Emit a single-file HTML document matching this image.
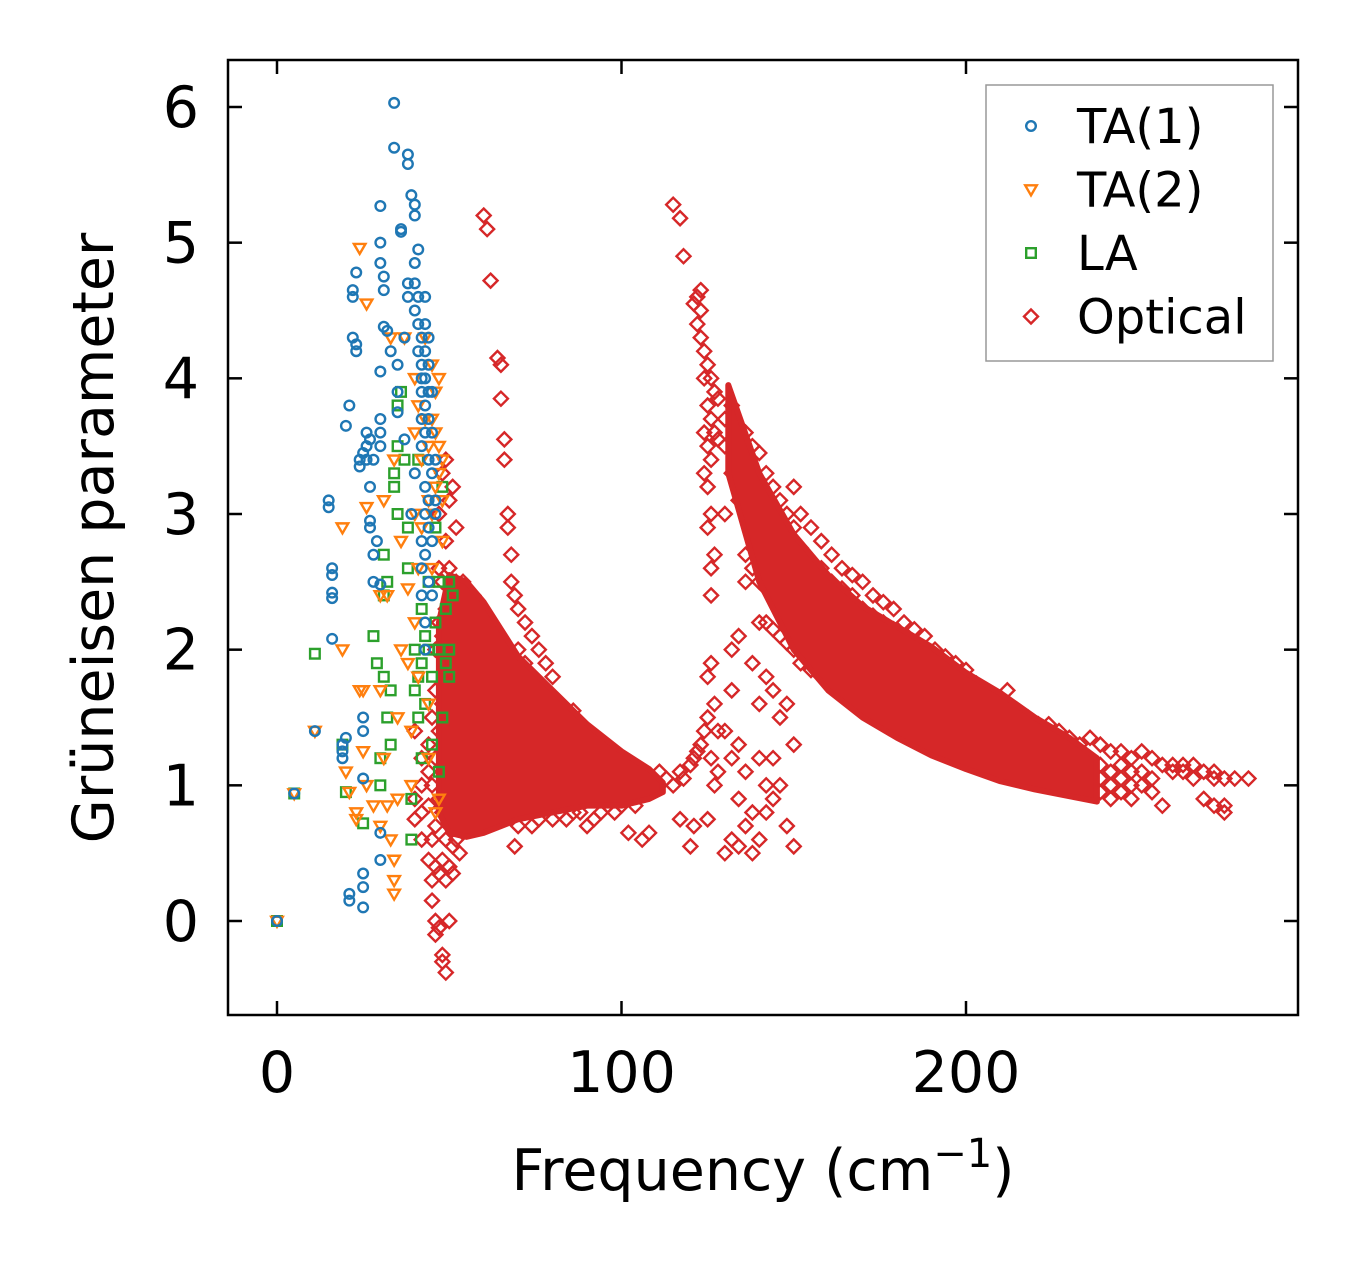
<!DOCTYPE html>
<html><head><meta charset="utf-8">
<style>
html,body{margin:0;padding:0;background:#fff;}
svg{display:block;font-family:"DejaVu Sans","Liberation Sans",sans-serif;}
</style></head>
<body>
<svg id="chart" width="1357" height="1264" viewBox="0 0 1357 1264" xmlns="http://www.w3.org/2000/svg">
<rect x="0" y="0" width="1357" height="1264" fill="#fff"/>
<g id="marks"></g>
<g id="axes"></g>
</svg>
<script>
const xTicks = [0, 100, 200];
const yTicks = [0, 1, 2, 3, 4, 5, 6];
const seriesNames = ["TA(1)", "TA(2)", "LA", "Optical"];

const ta1 = [[0,0],[5,0.94],[11,1.4],[15,3.1],[15,3.05],[16,2.6],[16,2.55],[16,2.42],[16,2.38],[16,2.08],[19,1.3],[19,1.25],[19,1.2],[20,1.35],[20,3.65],[21,3.8],[21,0.2],[21,0.15],[22,4.3],[22,4.65],[22,4.6],[23,4.2],[23,4.25],[23,4.78],[24,3.4],[24,3.35],[25,3.45],[25,1.5],[25,1.4],[25,1.05],[25,0.35],[25,0.25],[25,0.1],[26,3.6],[26,3.5],[26,3.4],[27,3.55],[27,3.2],[27,2.95],[27,2.9],[28,2.7],[28,2.5],[28,3.4],[29,2.8],[30,5.27],[30,5.0],[30,4.85],[30,4.05],[30,3.6],[30,3.7],[30,3.5],[30,2.48],[30,0.45],[30,0.65],[31,4.75],[31,4.65],[31,4.38],[32,4.35],[33,4.2],[34,6.03],[34,5.7],[35,3.75],[35,3.9],[35,4.1],[36,5.1],[36,5.08],[37,3.55],[37,4.3],[38,5.65],[38,5.58],[38,4.7],[38,4.6],[39,5.35],[39,3.0],[40,5.28],[40,5.2],[40,4.85],[40,4.7],[40,4.5],[40,3.3],[41,4.95],[41,4.6],[41,4.4],[41,4.2],[42,4.3],[42,4.1],[42,4.0],[42,3.9],[42,3.7],[42,3.5],[42,2.8],[42,2.6],[42,2.4],[43,4.6],[43,4.4],[43,4.2],[43,4.0],[43,3.8],[43,3.6],[43,3.2],[43,3.0],[43,2.7],[43,2.2],[43,2.0],[44,4.3],[44,4.1],[44,3.9],[44,3.7],[44,3.4],[44,3.1],[44,2.9],[44,2.5],[45,3.9],[45,3.6],[45,3.3],[45,2.8],[45,2.4],[46,3.4],[46,3.1],[46,3.0]];

const ta2 = [[0,0],[5,0.94],[11,1.4],[19,2.9],[19,2.0],[20,1.1],[21,0.95],[23,0.75],[23,0.8],[24,1.7],[24,4.96],[25,1.25],[25,1.7],[26,1.0],[26,4.55],[26,3.05],[28,0.85],[30,0.7],[30,2.4],[30,1.7],[31,1.2],[31,3.1],[32,2.4],[32,0.85],[33,0.6],[33,4.3],[34,0.3],[34,0.2],[34,0.45],[34,3.4],[35,0.9],[35,1.5],[36,2.0],[36,2.8],[37,4.3],[38,2.45],[38,1.9],[39,1.4],[39,1.0],[40,4.0],[40,3.6],[40,3.0],[40,2.2],[41,3.8],[41,2.6],[41,1.8],[42,3.4],[42,2.9],[43,4.3],[43,3.7],[44,3.5],[44,3.1],[45,4.1],[45,3.7],[45,3.0],[46,3.9],[46,3.6],[46,3.2],[47,4.0],[47,3.5],[47,3.3],[48,3.4],[48,3.1],[47,0.9],[46,0.8],[44,1.2],[44,1.6],[45,2.6],[48,2.8]];

const la = [[0,0],[5,0.94],[11,1.97],[19,1.3],[20,0.95],[25,0.72],[28,2.1],[29,1.9],[30,1.2],[30,1.0],[31,1.8],[31,2.4],[31,2.7],[32,2.5],[32,1.5],[33,1.3],[33,1.7],[34,3.3],[34,3.2],[35,3.8],[35,3.5],[35,3.0],[36,3.9],[37,3.4],[38,2.9],[38,2.6],[39,0.9],[39,0.6],[40,2.0],[40,1.7],[41,1.8],[41,1.5],[41,3.4],[42,1.2],[42,1.9],[42,2.3],[43,2.1],[43,1.6],[44,2.5],[44,2.0],[45,1.3],[45,1.8],[46,2.2],[46,2.9],[47,2.5],[47,2.0],[47,1.1],[48,1.5],[48,3.2],[49,2.3],[49,1.9],[50,2.5],[50,2.0],[50,1.8],[51,2.4]];

const optical = [[40,[0.9,0.75,1.4]],[42,[1.0,0.8,1.2,0.6]],[44,[0.45,1.3,0.85,1.1]],[45,[0.3,0.15,0.6,1.0,1.5]],[46,[-0.1,0.0,0.4,0.7,1.2,1.7,2.0]],[47,[-0.05,0.35,0.9,1.4,2.2,2.6,3.0]],[48,[-0.25,-0.3,0.45,0.8,1.1,1.6,2.1,2.5,3.3]],[49,[-0.38,0.3,0.6,1.0,1.3,1.8,2.3,2.8,3.4]],[50,[0.0,0.4,0.7,1.2,1.5,1.9,2.2,2.6,3.1]],[51,[0.35,0.55,0.9,1.3,1.6,2.0,2.4,3.2]],[52,[0.6,0.8,1.1,1.4,1.7,2.1,2.5,2.9]],[53,[0.5,0.9,1.2,1.5,1.8,2.2,2.4]],[54,[0.7,1.0,1.3,1.6,1.9,2.3,2.5]],[55,[0.8,1.1,1.4,1.7,2.0,2.3]],[56,[0.75,1.0,1.3,1.6,1.9,2.2,2.4]],[57,[0.9,1.2,1.5,1.8,2.1,2.4]],[58,[0.85,1.1,1.4,1.7,2.0,2.3]],[59,[1.0,1.3,1.6,1.9,2.2]],[60,[0.9,1.2,1.5,1.8,2.1,5.2]],[61,[0.8,1.1,1.4,1.7,2.0,5.1]],[62,[1.0,1.3,1.6,1.9,4.72]],[63,[0.9,1.2,1.5,1.8]],[64,[1.0,1.3,1.6,1.9,4.15]],[65,[0.85,1.1,1.4,1.7,4.1,3.85]],[66,[1.0,1.2,1.5,1.8,3.55,3.4]],[67,[0.8,1.1,1.4,1.7,2.0,3.0,2.9]],[68,[0.9,1.2,1.5,1.8,2.7,2.5]],[69,[0.55,1.0,1.3,1.6,1.9,2.4]],[70,[0.7,1.1,1.4,1.7,2.0,2.3]],[72,[0.8,1.0,1.3,1.6,1.9,2.2]],[74,[0.7,1.0,1.2,1.5,1.8,2.1]],[76,[0.75,0.95,1.2,1.45,1.7,2.0]],[78,[0.8,1.0,1.2,1.4,1.65,1.9]],[80,[0.75,0.95,1.15,1.4,1.6,1.8]],[82,[0.8,1.0,1.2,1.4,1.6]],[84,[0.75,0.95,1.1,1.3,1.5]],[86,[0.8,1.0,1.15,1.35,1.55]],[88,[0.8,0.95,1.1,1.3,1.45]],[90,[0.7,0.9,1.05,1.25,1.4]],[92,[0.75,0.9,1.05,1.2,1.35]],[94,[0.8,0.95,1.1,1.25]],[96,[0.85,0.95,1.05,1.2]],[98,[0.8,0.95,1.05,1.15]],[100,[0.85,0.95,1.05]],[102,[0.65,0.9,1.0]],[104,[0.95,0.85]],[106,[0.6,1.0]],[108,[0.65]],[111,[1.1,1.0]],[113,[1.05]],[115,[1.0,5.28]],[117,[1.1,5.18,0.75]],[118,[4.9,1.05]],[120,[1.15,0.55]],[121,[1.2,4.55,0.7]],[122,[4.6,4.4,1.25]],[123,[4.65,4.5,4.3,1.3]],[124,[4.2,4.0,3.6,3.3,1.4]],[125,[4.1,3.8,3.5,3.2,2.9,1.8,1.5,0.75]],[126,[4.0,3.7,3.4,3.0,2.6,2.4,1.9,1.2]],[127,[3.9,3.6,2.7,1.6,1.0]],[128,[3.85,3.55,1.4,1.1]],[130,[3.7,3.5,3.0,1.4,0.5]],[132,[3.8,3.55,3.3,2.0,1.7,1.2,0.6]],[134,[3.65,3.4,3.1,2.1,1.3,0.9,0.55]],[136,[3.6,3.3,3.0,2.7,2.5,1.1,0.7]],[138,[3.5,3.2,2.9,2.6,1.9,0.8,0.5]],[140,[3.45,3.1,2.8,2.5,2.2,1.6,1.2,0.6]],[142,[3.3,3.0,2.7,2.45,2.2,1.8,1.0,0.8]],[144,[3.2,2.9,2.65,2.4,2.15,1.7,1.2,0.9]],[146,[3.1,2.85,2.6,2.35,2.1,1.5,1.0]],[148,[3.0,2.8,2.55,2.3,2.05,1.6,0.7]],[150,[3.2,2.9,2.7,2.5,2.25,2.0,1.3,0.55]],[152,[3.0,2.75,2.5,2.3,2.1,1.9]],[155,[2.9,2.65,2.45,2.25,2.05,1.85]],[158,[2.8,2.6,2.4,2.2,2.0,1.8]],[161,[2.7,2.5,2.3,2.15,1.95,1.75]],[164,[2.6,2.45,2.25,2.1,1.9,1.7]],[167,[2.55,2.4,2.2,2.05,1.85,1.65]],[170,[2.5,2.3,2.15,2.0,1.8,1.6]],[173,[2.4,2.25,2.1,1.95,1.75,1.6]],[176,[2.35,2.2,2.05,1.9,1.7,1.55]],[179,[2.3,2.15,2.0,1.85,1.65,1.5]],[182,[2.2,2.05,1.9,1.75,1.6]],[185,[2.15,2.0,1.85,1.7,1.55,1.45]],[188,[2.1,1.95,1.8,1.65,1.5]],[191,[2.0,1.85,1.7,1.6,1.45,1.3]],[194,[1.95,1.8,1.7,1.55,1.4]],[197,[1.9,1.75,1.6,1.5,1.35]],[200,[1.85,1.7,1.6,1.45,1.35]],[203,[1.75,1.65,1.5,1.4,1.3]],[206,[1.7,1.6,1.5,1.35,1.25]],[209,[1.65,1.55,1.45,1.35,1.2]],[212,[1.7,1.5,1.4,1.3,1.2]],[215,[1.55,1.45,1.35,1.25,1.15]],[218,[1.5,1.4,1.3,1.2,1.1]],[221,[1.45,1.35,1.25,1.15,1.05]],[224,[1.45,1.3,1.2,1.1,1.05]],[227,[1.4,1.3,1.15,1.05,1.0]],[230,[1.35,1.2,1.1,1.0]],[233,[1.3,1.15,1.05,0.95]],[236,[1.35,1.2,1.1,1.0,0.95]],[239,[1.3,1.15,1.05,0.95]],[242,[1.25,1.1,1.0,0.9]],[245,[1.25,1.15,1.05,0.95]],[248,[1.2,1.1,1.0,0.9]],[251,[1.25,1.1,1.0]],[254,[1.2,1.05,0.95]],[257,[1.15,0.85]],[260,[1.15,1.1]],[263,[1.15,1.1]],[266,[1.15,1.05]],[269,[1.1,0.9]],[272,[1.1,1.05,0.85]],[275,[1.05,0.8,0.85]],[278,[1.05]],[282,[1.05]]];

// dense optical cloud envelopes (freq, low gamma, high gamma)
const denseLowFreq = [47,50,55,60,65,70,80,90,100,108,112];
const denseLowMin  = [0.8,0.65,0.62,0.65,0.7,0.75,0.8,0.85,0.85,0.9,0.95];
const denseLowMax  = [2.2,2.55,2.5,2.35,2.15,1.95,1.7,1.45,1.25,1.12,1.02];
const denseHighFreq = [131,140,150,160,170,180,190,200,210,220,230,238];
const denseHighMin  = [3.3,2.5,2.0,1.7,1.5,1.35,1.22,1.12,1.03,0.97,0.92,0.88];
const denseHighMax  = [3.95,3.3,2.85,2.55,2.32,2.17,2.02,1.83,1.68,1.5,1.35,1.2];

const NS = "http://www.w3.org/2000/svg";
const L = 228, R = 1298, T = 60, B = 1015;
const X0 = 277, XS = (966 - 277) / 200;
const Y0 = 921, YS = (921 - 107) / 6;
function xs(v){ return X0 + v * XS; }
function ys(v){ return Y0 - v * YS; }
const colors = ["#1f77b4", "#ff7f0e", "#2ca02c", "#d62728"];
const marks = document.getElementById("marks");
const axes = document.getElementById("axes");

function mk(tag, attrs, parent){
  const e = document.createElementNS(NS, tag);
  for (const k in attrs) e.setAttribute(k, attrs[k]);
  parent.appendChild(e);
  return e;
}
function marker(kind, cx, cy, parent){
  let e;
  const c = colors[kind];
  if (kind === 0) {
    e = mk("circle", {cx: cx, cy: cy, r: 4.8, fill: "none", stroke: c, "stroke-width": 2.4}, parent);
  } else if (kind === 1) {
    e = mk("path", {d: "M"+(cx-5.8)+","+(cy-4.2)+"L"+(cx+5.8)+","+(cy-4.2)+"L"+cx+","+(cy+5.8)+"Z", fill: "none", stroke: c, "stroke-width": 2.4}, parent);
  } else if (kind === 2) {
    e = mk("rect", {x: cx-4.8, y: cy-4.8, width: 9.6, height: 9.6, fill: "none", stroke: c, "stroke-width": 2.4}, parent);
  } else {
    e = mk("path", {d: "M"+cx+","+(cy-7)+"L"+(cx+7)+","+cy+"L"+cx+","+(cy+7)+"L"+(cx-7)+","+cy+"Z", fill: "none", stroke: c, "stroke-width": 2.4}, parent);
  }
  return e;
}

const defs = mk("defs", {}, document.getElementById("chart"));
const cp = mk("clipPath", {id: "plotclip"}, defs);
mk("rect", {x: L, y: T, width: R-L, height: B-T}, cp);
marks.setAttribute("clip-path", "url(#plotclip)");

function band(fr, lo, hi, name){
  let d = "";
  for (let i = 0; i < fr.length; i++) d += (i ? "L" : "M") + xs(fr[i]) + "," + ys(hi[i]);
  for (let i = fr.length - 1; i >= 0; i--) d += "L" + xs(fr[i]) + "," + ys(lo[i]);
  d += "Z";
  const p = mk("path", {d: d, fill: colors[3], stroke: colors[3], "stroke-width": 6, "stroke-linejoin": "round"}, marks);
  
  
}

const gOpt = mk("g", {}, marks);


band(denseLowFreq, denseLowMin, denseLowMax, 'optical-dense-low');
band(denseHighFreq, denseHighMin, denseHighMax, 'optical-dense-high');
optical.forEach(function(g){
  g[1].forEach(function(v){
    const m = marker(3, xs(g[0]), ys(v), gOpt);
    
    
  });
});
const acoustic = [[la, 2, 'series-la', 'la-point'], [ta2, 1, 'series-ta2', 'ta2-point'], [ta1, 0, 'series-ta1', 'ta1-point']];
acoustic.forEach(function(s){
  const g = mk("g", {}, marks);
  
  
  s[0].forEach(function(p){
    const m = marker(s[1], xs(p[0]), ys(p[1]), g);
    
    
  });
});

const frame = mk("rect", {x: L, y: T, width: R-L, height: B-T, fill: "none", stroke: "#000", "stroke-width": 2.5}, axes);



xTicks.forEach(function(v){
  const x = xs(v);
  const t1 = mk("line", {x1: x, y1: B, x2: x, y2: B-14, stroke: "#000", "stroke-width": 2.5}, axes);
  
  
  const t2 = mk("line", {x1: x, y1: T, x2: x, y2: T+14, stroke: "#000", "stroke-width": 2.5}, axes);
  
  
  const tx = mk("text", {x: x, y: 1092, "font-size": 57, "text-anchor": "middle", fill: "#000"}, axes);
  tx.textContent = String(v);
  
  
});
yTicks.forEach(function(v){
  const y = ys(v);
  const t1 = mk("line", {x1: L, y1: y, x2: L+14, y2: y, stroke: "#000", "stroke-width": 2.5}, axes);
  
  
  const t2 = mk("line", {x1: R, y1: y, x2: R-14, y2: y, stroke: "#000", "stroke-width": 2.5}, axes);
  
  
  const tx = mk("text", {x: 199, y: y + 20, "font-size": 57, "text-anchor": "end", fill: "#000"}, axes);
  tx.textContent = String(v);
  
  
});

const xl = mk("text", {x: 763, y: 1190, "font-size": 57, "text-anchor": "middle", fill: "#000"}, axes);
xl.innerHTML = 'Frequency (cm<tspan dy="-23" font-size="40">−1</tspan><tspan dy="23">)</tspan>';


const yl = mk("text", {x: 0, y: 0, "font-size": 57, "text-anchor": "middle", fill: "#000", transform: "translate(113,538) rotate(-90)"}, axes);
yl.textContent = "Grüneisen parameter";



const lg = mk("g", {}, axes);


const lb = mk("rect", {x: 986, y: 85, width: 287, height: 276, fill: "#fff", stroke: "#999", "stroke-width": 1.5, "fill-opacity": 0.85}, lg);


seriesNames.forEach(function(n, i){
  const y = 126 + i * 63.5;
  const m = marker(i, 1031, y, lg);
  
  
  const t = mk("text", {x: 1077, y: y + 17, "font-size": 48, fill: "#000"}, lg);
  t.textContent = n;
  
  
});
</script>
</body></html>
